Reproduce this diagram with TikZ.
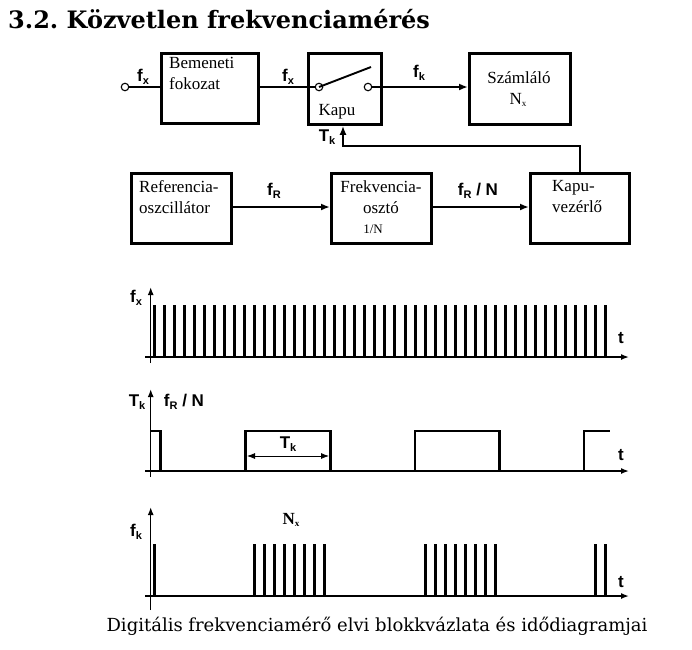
\documentclass[tikz,border=0pt]{standalone}
\usepackage{fontspec}
\setmainfont{Liberation Serif}
\newfontfamily\lsans{Liberation Sans}
\newfontfamily\dserif{DejaVu Serif}
\usetikzlibrary{arrows.meta}
\frenchspacing
\newcommand{\lbsub}[2]{#1\raisebox{-0.3ex}{\fontsize{11}{11}\selectfont #2}}
\newcommand{\nsub}[2]{#1\raisebox{-0.3ex}{\fontsize{9}{9}\selectfont #2}}
\begin{document}
\begin{tikzpicture}[x=1pt,y=-1pt,
 box/.style={draw,line width=2.8pt,inner sep=0pt,anchor=north west},
 conn/.style={line width=1.9pt},
 arr/.style={conn,-{Latex[length=9pt,width=7pt]}},
 lbl/.style={font=\lsans\bfseries\fontsize{17}{17}\selectfont,inner sep=0pt},
 btxt/.style={font=\fontsize{17}{21}\selectfont,inner sep=0pt,align=left},
 ctxt/.style={font=\fontsize{17}{21}\selectfont,inner sep=0pt,align=center},
 ax/.style={line width=1.5pt,-{Latex[length=8pt,width=6pt]}},
 pulse/.style={line width=3pt},
 wave/.style={line width=2.6pt},
 term/.style={circle,draw,line width=1.1pt,minimum size=7.5pt,inner sep=0pt,fill=white},
]
\useasboundingbox (0,0) rectangle (692,649);

% title
\node[anchor=west,inner sep=0pt,font=\dserif\bfseries\fontsize{24}{28}\selectfont] (title) at (8,19) {3.2. Közvetlen frekvenciamérés};

% blocks
\node[box,minimum width=97pt,minimum height=70pt] (bem) at (160,52) {};
\node[box,minimum width=73pt,minimum height=71pt] (kapu) at (307,52) {};
\node[box,minimum width=101pt,minimum height=71pt] (szam) at (468,52) {};
\node[box,minimum width=100pt,minimum height=70pt] (ref) at (130,172) {};
\node[box,minimum width=100pt,minimum height=70pt] (frek) at (330,172) {};
\node[box,minimum width=99pt,minimum height=70pt] (kv) at (529,172) {};

% block texts
\node[btxt,anchor=north west] (tbem) at (169,57) {Bemeneti\\fokozat};
\node[ctxt] (tkapu) at (337,112) {Kapu};
\node[ctxt] (tszam) at (519,78) {Számláló};
\node[ctxt] (tnx) at (518,100) {\nsub{N}{x}};
\node[btxt,anchor=north west] (tref) at (139,180) {Referencia-\\oszcillátor};
\node[ctxt,anchor=north] (tfrek) at (381,180) {Frekvencia-\\osztó};
\node[ctxt,font=\fontsize{13}{13}\selectfont] (tfrekn) at (373,229) {1/N};
\node[btxt,anchor=north west] (tkv) at (552,180) {Kapu-\\vezérlő};

% switch and terminals
\node[term] (cin) at (125,87) {};
\node[term] (sl) at (319,87) {};
\node[term] (sr) at (368,87) {};
\coordinate (blade) at (371,67);
\coordinate (fbc) at (343,146);

% connectors
\draw[conn] (cin) -- (bem.west |- cin);
\draw[conn] (bem.east |- sl) -- (sl.west);
\draw[conn] (sl.center) -- (blade);
\draw[arr] (sr.east) -- (szam.west |- sr);
\draw[arr] (ref.east |- 0,207) -- (frek.west |- 0,207);
\draw[arr] (frek.east |- 0,207) -- (kv.west |- 0,207);
\draw[arr] (kv.north) |- (fbc) -- (fbc |- kapu.south);

% connector labels
\node[lbl] (lfx1) at (143,77) {\lbsub{f}{x}};
\node[lbl] (lfx2) at (288,77) {\lbsub{f}{x}};
\node[lbl] (lfk) at (419,73) {\lbsub{f}{k}};
\node[lbl] (ltk) at (327,137) {\lbsub{T}{k}};
\node[lbl] (lfr) at (274,191) {\lbsub{f}{R}};
\node[lbl] (lfrn) at (478,191) {\lbsub{f}{R} / N};

% diagram 1: f_x
\draw[ax] (150.7,363) -- (150.7,287);
\draw[ax] (145,357) -- (629,357);
\foreach \i in {0,...,45} \draw[pulse] ({154+10.04*\i},357) -- ({154+10.04*\i},305);
\node[lbl] (d1y) at (136,298) {\lbsub{f}{x}};
\node[lbl] (d1t) at (621,338) {t};

% diagram 2: T_k
\draw[ax] (150.7,477) -- (150.7,389);
\draw[ax] (145,471) -- (629,471);
\draw[wave] (150.7,431) -- (160.7,431) -- (160.7,471) -- (245.7,471) -- (245.7,431) -- (330.3,431) -- (330.3,471) -- (415,471) -- (415,431) -- (499.6,431) -- (499.6,471) -- (584,471) -- (584,431) -- (610,431);
\draw[line width=0.8pt,{Latex[length=8pt,width=6pt]}-{Latex[length=8pt,width=6pt]}] (247,456) -- (329,456);
\node[lbl] (d2y) at (137,402) {\lbsub{T}{k}};
\node[lbl] (d2y2) at (184,402) {\lbsub{f}{R} / N};
\node[lbl] (d2tk) at (288,444) {\lbsub{T}{k}};
\node[lbl] (d2t) at (621,455) {t};

% diagram 3: f_k
\draw[ax] (150.7,610) -- (150.7,507);
\draw[ax] (145,596) -- (629,596);
\foreach \i in {0,10,11,12,13,14,15,16,17,27,28,29,30,31,32,33,34,44,45} \draw[pulse] ({154+10.04*\i},596) -- ({154+10.04*\i},544);
\node[lbl] (d3y) at (136,532) {\lbsub{f}{k}};
\node[ctxt,font=\bfseries\fontsize{17}{17}\selectfont] (d3n) at (291,520) {\nsub{N}{x}};
\node[lbl] (d3t) at (621,582) {t};

% caption
\node[inner sep=0pt,font=\dserif\fontsize{18}{21}\selectfont] (cap) at (377,626) {Digitális frekvenciamérő elvi blokkvázlata és idődiagramjai};
\end{tikzpicture}
\end{document}
